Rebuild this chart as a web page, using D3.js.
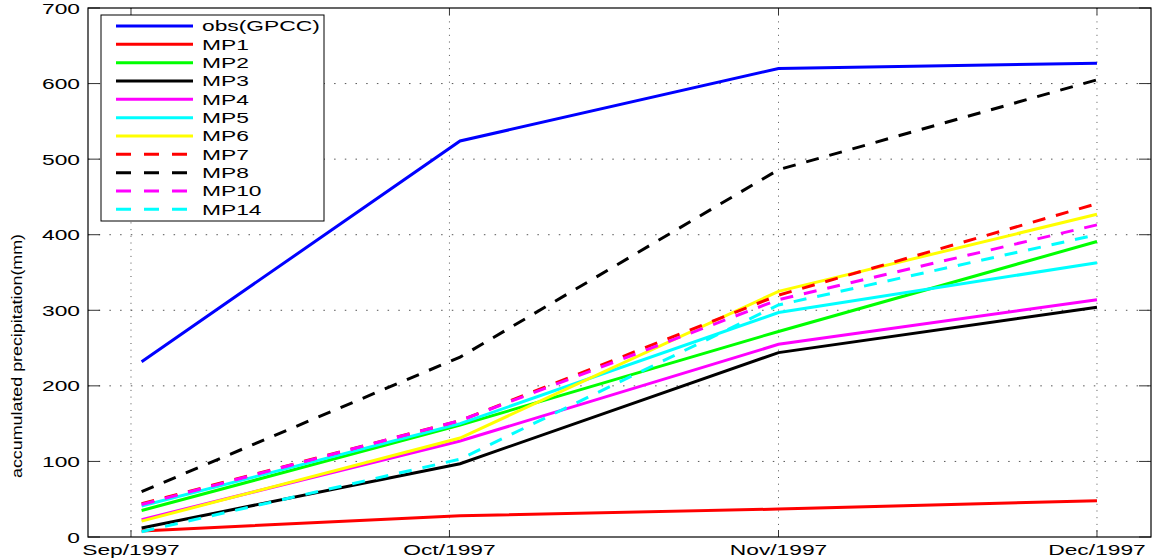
<!DOCTYPE html>
<html>
<head>
<meta charset="utf-8">
<script src="https://cdn.jsdelivr.net/npm/d3@7"></script>
<style>
  body { margin: 0; background: #fff; }
  text { font-family: "Liberation Sans", Arial, Helvetica, sans-serif; fill: #000; }
</style>
</head>
<body>
<div id="chart"></div>
<script>
// data: accumulated precipitation (mm), one value per month
const dates = [new Date(1997, 8, 2), new Date(1997, 9, 2), new Date(1997, 10, 1), new Date(1997, 11, 1)];
const tickDates = [new Date(1997, 8, 1), new Date(1997, 9, 1), new Date(1997, 10, 1), new Date(1997, 11, 1)];
const tickLabels = ["Sep/1997", "Oct/1997", "Nov/1997", "Dec/1997"];
const yTicks = [0, 100, 200, 300, 400, 500, 600, 700];

const seriesNames = ["obs(GPCC)", "MP1", "MP2", "MP3", "MP4", "MP5", "MP6", "MP7", "MP8", "MP10", "MP14"];
const seriesColors = ["#0000ff", "#ff0000", "#00ff00", "#000000", "#ff00ff", "#00ffff", "#ffff00", "#ff0000", "#000000", "#ff00ff", "#00ffff"];
const seriesDashed = [false, false, false, false, false, false, false, true, true, true, true];

const obs  = [232, 524, 620, 627];
const mp1  = [8, 28, 37, 48];
const mp2  = [35, 148, 272, 391];
const mp3  = [12, 97, 244, 304];
const mp4  = [23, 127, 255, 314];
const mp5  = [41, 150, 297, 363];
const mp6  = [21, 131, 325, 427];
const mp7  = [44, 154, 320, 441];
const mp8  = [60, 238, 486, 605];
const mp10 = [43, 154, 314, 413];
const mp14 = [7, 103, 307, 400];
const seriesValues = [obs, mp1, mp2, mp3, mp4, mp5, mp6, mp7, mp8, mp10, mp14];

const W = 1156, H = 560;
const plotL = 88, plotR = 1151, plotT = 8, plotB = 537;
const sx = 1.52; // horizontal stretch of the text in the picture

const svg = d3.select("#chart").append("svg")
    .attr("width", W).attr("height", H);

const day = 864e5;
const x = d3.scaleTime()
    .domain([new Date(+tickDates[0] - 4.05 * day), new Date(+tickDates[3] + 5.09 * day)])
    .range([plotL, plotR]);
const y = d3.scaleLinear().domain([0, 700]).range([plotB, plotT]);

// grid
svg.append("g").selectAll("line").data(yTicks.slice(1, -1)).enter().append("line")
    .attr("x1", plotL).attr("x2", plotR)
    .attr("y1", d => y(d)).attr("y2", d => y(d))
    .attr("stroke", "#555").attr("stroke-width", 1).attr("stroke-dasharray", "1.5,9.2");
svg.append("g").selectAll("line").data(tickDates).enter().append("line")
    .attr("x1", d => x(d)).attr("x2", d => x(d))
    .attr("y1", plotT).attr("y2", plotB)
    .attr("stroke", "#555").attr("stroke-width", 1).attr("stroke-dasharray", "1,5.7");

// ticks, inward on all four sides
const tk = svg.append("g").attr("stroke", "#333").attr("stroke-width", 1);
yTicks.forEach(v => {
  tk.append("line").attr("x1", plotL).attr("x2", plotL + 12).attr("y1", y(v)).attr("y2", y(v));
  tk.append("line").attr("x1", plotR - 12).attr("x2", plotR).attr("y1", y(v)).attr("y2", y(v));
});
tickDates.forEach(d => {
  tk.append("line").attr("x1", x(d)).attr("x2", x(d)).attr("y1", plotB).attr("y2", plotB - 7);
  tk.append("line").attr("x1", x(d)).attr("x2", x(d)).attr("y1", plotT).attr("y2", plotT + 7);
});

// lines
const line = d3.line().x((d, i) => x(dates[i])).y(d => y(d));
seriesValues.forEach((vals, k) => {
  svg.append("path")
    .datum(vals)
    .attr("d", line)
    .attr("fill", "none")
    .attr("stroke", seriesColors[k])
    .attr("stroke-width", 3)
    .attr("stroke-dasharray", seriesDashed[k] ? "13,11" : null);
});

// box
svg.append("rect")
    .attr("x", plotL).attr("y", plotT).attr("width", plotR - plotL).attr("height", plotB - plotT)
    .attr("fill", "none").attr("stroke", "#000").attr("stroke-width", 1.2);

// tick labels
yTicks.forEach(v => {
  svg.append("text")
    .attr("transform", `translate(80,${y(v) + 5.5}) scale(${sx},1)`)
    .attr("text-anchor", "end")
    .style("font-size", "15px")
    .text(v);
});
tickDates.forEach((d, i) => {
  svg.append("text")
    .attr("transform", `translate(${x(d)},555) scale(${sx},1)`)
    .attr("text-anchor", "middle")
    .style("font-size", "15px")
    .text(tickLabels[i]);
});

// y label
svg.append("text")
    .attr("transform", "translate(22,356) rotate(-90)")
    .attr("text-anchor", "middle")
    .attr("textLength", 244)
    .attr("lengthAdjust", "spacingAndGlyphs")
    .style("font-size", "14px")
    .text("accumulated precipitation(mm)");

// legend
const lg = svg.append("g");
lg.append("rect")
    .attr("x", 101).attr("y", 15).attr("width", 223).attr("height", 206)
    .attr("fill", "#fff").attr("stroke", "#000").attr("stroke-width", 1);
seriesNames.forEach((name, k) => {
  const ly = 26 + k * 18.33;
  lg.append("line")
    .attr("x1", 116).attr("x2", 193).attr("y1", ly).attr("y2", ly)
    .attr("stroke", seriesColors[k]).attr("stroke-width", 3)
    .attr("stroke-dasharray", seriesDashed[k] ? "15,13" : null);
  lg.append("text")
    .attr("transform", `translate(202,${ly + 5.3}) scale(${sx},1)`)
    .style("font-size", "15px")
    .text(name);
});
</script>
</body>
</html>
